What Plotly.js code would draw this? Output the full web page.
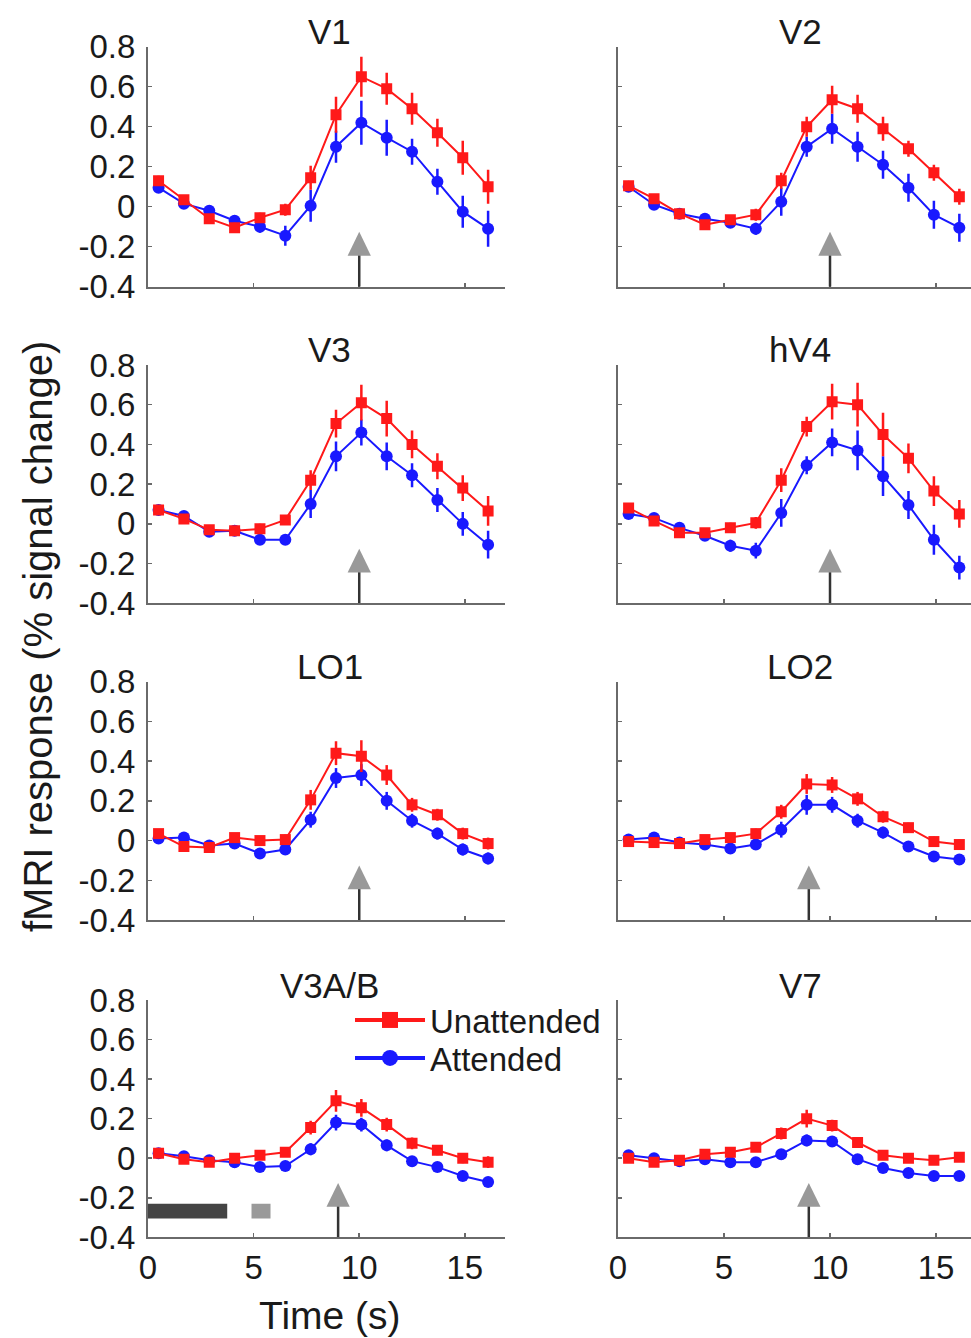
<!DOCTYPE html>
<html>
<head>
<meta charset="utf-8">
<script src="https://cdn.plot.ly/plotly-3.0.1.min.js"></script>
<style>html,body{margin:0;padding:0;background:#fff;}#chart{width:971px;height:1338px;}</style>
</head>
<body>
<div id="chart"></div>
<script>
// ---- data ----
const panelNames = ['V1','V2','V3','hV4','LO1','LO2','V3A/B','V7'];
const timePoints = [0.5,1.7,2.9,4.1,5.3,6.5,7.7,8.9,10.1,11.3,12.5,13.7,14.9,16.1];

const unattV1  = [0.13,0.035,-0.06,-0.105,-0.055,-0.015,0.145,0.46,0.65,0.59,0.49,0.37,0.245,0.10];
const unattV1e = [0.025,0.02,0.02,0.025,0.025,0.03,0.06,0.09,0.10,0.08,0.08,0.07,0.085,0.085];
const attV1    = [0.095,0.015,-0.02,-0.07,-0.10,-0.145,0.005,0.30,0.42,0.345,0.275,0.125,-0.025,-0.11];
const attV1e   = [0.02,0.02,0.02,0.025,0.03,0.05,0.08,0.08,0.11,0.09,0.065,0.065,0.08,0.09];

const unattV2  = [0.105,0.04,-0.035,-0.09,-0.065,-0.04,0.13,0.40,0.535,0.49,0.39,0.29,0.17,0.05];
const unattV2e = [0.02,0.02,0.02,0.02,0.02,0.03,0.04,0.05,0.07,0.07,0.06,0.04,0.04,0.04];
const attV2    = [0.10,0.01,-0.035,-0.06,-0.08,-0.11,0.025,0.30,0.39,0.30,0.21,0.095,-0.04,-0.105];
const attV2e   = [0.02,0.02,0.02,0.02,0.02,0.03,0.07,0.05,0.075,0.075,0.07,0.07,0.07,0.07];

const unattV3  = [0.07,0.025,-0.03,-0.035,-0.025,0.02,0.22,0.505,0.61,0.53,0.40,0.29,0.18,0.065];
const unattV3e = [0.02,0.02,0.02,0.02,0.025,0.025,0.05,0.07,0.09,0.09,0.07,0.065,0.065,0.075];
const attV3    = [0.07,0.04,-0.04,-0.035,-0.08,-0.08,0.10,0.34,0.46,0.34,0.245,0.12,0.0,-0.105];
const attV3e   = [0.02,0.02,0.02,0.02,0.02,0.025,0.07,0.075,0.065,0.07,0.06,0.06,0.06,0.07];

const unattV4  = [0.08,0.015,-0.045,-0.045,-0.02,0.005,0.22,0.49,0.615,0.60,0.45,0.33,0.165,0.05];
const unattV4e = [0.02,0.02,0.02,0.02,0.025,0.03,0.06,0.05,0.09,0.11,0.11,0.075,0.075,0.07];
const attV4    = [0.05,0.03,-0.02,-0.06,-0.11,-0.135,0.055,0.295,0.41,0.37,0.24,0.095,-0.08,-0.22];
const attV4e   = [0.02,0.02,0.02,0.02,0.03,0.04,0.07,0.045,0.07,0.10,0.10,0.07,0.075,0.06];

const unattLO1  = [0.035,-0.03,-0.035,0.015,0.0,0.005,0.205,0.44,0.425,0.33,0.18,0.13,0.035,-0.015];
const unattLO1e = [0.02,0.02,0.02,0.02,0.02,0.025,0.05,0.06,0.08,0.05,0.035,0.03,0.03,0.03];
const attLO1    = [0.01,0.015,-0.025,-0.015,-0.065,-0.045,0.105,0.315,0.33,0.20,0.10,0.035,-0.045,-0.09];
const attLO1e   = [0.02,0.02,0.02,0.02,0.02,0.025,0.04,0.05,0.055,0.045,0.035,0.03,0.03,0.03];

const unattLO2  = [-0.005,-0.01,-0.015,0.005,0.015,0.035,0.145,0.285,0.28,0.21,0.12,0.065,-0.005,-0.02];
const unattLO2e = [0.02,0.02,0.02,0.02,0.02,0.025,0.035,0.05,0.04,0.035,0.03,0.025,0.025,0.025];
const attLO2    = [0.005,0.015,-0.01,-0.02,-0.04,-0.02,0.055,0.18,0.18,0.10,0.04,-0.03,-0.08,-0.095];
const attLO2e   = [0.02,0.02,0.02,0.02,0.02,0.02,0.04,0.05,0.04,0.035,0.03,0.025,0.02,0.02];

const unattV3AB  = [0.025,-0.005,-0.02,0.0,0.015,0.03,0.155,0.29,0.255,0.17,0.075,0.04,0.0,-0.02];
const unattV3ABe = [0.02,0.02,0.02,0.02,0.02,0.02,0.035,0.055,0.045,0.035,0.03,0.025,0.025,0.03];
const attV3AB    = [0.025,0.01,-0.01,-0.02,-0.045,-0.04,0.045,0.18,0.17,0.065,-0.015,-0.045,-0.09,-0.12];
const attV3ABe   = [0.02,0.02,0.02,0.02,0.02,0.02,0.03,0.04,0.035,0.03,0.025,0.025,0.025,0.025];

const unattV7  = [0.0,-0.02,-0.01,0.02,0.03,0.055,0.125,0.20,0.165,0.08,0.015,0.0,-0.01,0.005];
const unattV7e = [0.02,0.02,0.02,0.02,0.02,0.02,0.03,0.045,0.03,0.025,0.02,0.02,0.02,0.02];
const attV7    = [0.015,0.0,-0.015,-0.005,-0.02,-0.02,0.02,0.09,0.085,-0.005,-0.05,-0.075,-0.09,-0.09];
const attV7e   = [0.02,0.02,0.02,0.02,0.02,0.02,0.02,0.03,0.025,0.02,0.02,0.02,0.02,0.02];

const arrowTimes = [10,10,10,10,10,9,9,9];
const stimulusPeriod = [0, 3.75];
const probePeriod = [4.9, 5.8];
const timingBarLevel = [-0.305, -0.23];

const yTickVals = [-0.4,-0.2,0,0.2,0.4,0.6,0.8];
const yTickText = ['-0.4','-0.2','0','0.2','0.4','0.6','0.8'];
const xTickVals = [0,5,10,15];
const xTickText = ['0','5','10','15'];

const unattended = [unattV1,unattV2,unattV3,unattV4,unattLO1,unattLO2,unattV3AB,unattV7];
const unattendedErr = [unattV1e,unattV2e,unattV3e,unattV4e,unattLO1e,unattLO2e,unattV3ABe,unattV7e];
const attended = [attV1,attV2,attV3,attV4,attLO1,attLO2,attV3AB,attV7];
const attendedErr = [attV1e,attV2e,attV3e,attV4e,attLO1e,attLO2e,attV3ABe,attV7e];

// ---- style / layout ----
const W = 971, H = 1338;
const FONT = '"Liberation Sans", Arial, Helvetica, sans-serif';
const RED = 'rgb(255,25,25)', BLUE = 'rgb(25,25,255)';
const AXC = '#6a6a6a';
const colPx = [[148,505],[618,971]];
const colRange = [[0,16.9],[0,16.65]];
const rowPx = [[46.7,286.7],[365,603.3],[681.7,920],[1000,1237.3]];

const traces = [];
const legendStyle = (yPx) => ({x: 350/W, y: 1 - yPx/H, xanchor: 'left', yanchor: 'middle',
  bgcolor: 'rgba(0,0,0,0)', font: {family: FONT, size: 33, color: '#1a1a1a'}, itemwidth: 70});
const layout = {
  width: W, height: H, autosize: false,
  margin: {l:0, r:0, t:0, b:0},
  paper_bgcolor: '#fff', plot_bgcolor: 'rgba(0,0,0,0)',
  font: {family: FONT, color: '#1a1a1a', size: 32},
  showlegend: true,
  legend: legendStyle(1020),
  legend2: legendStyle(1058),
  annotations: [], shapes: []
};

for (let i = 0; i < 8; i++) {
  const r = Math.floor(i/2), c = i % 2;
  const sfx = i === 0 ? '' : String(i+1);
  const xa = 'x' + sfx, ya = 'y' + sfx;
  layout['xaxis' + sfx] = {
    domain: [colPx[c][0]/W, colPx[c][1]/W], range: colRange[c], anchor: ya,
    showline: true, linecolor: AXC, linewidth: 2, ticks: 'inside', ticklen: 4, tickwidth: 1.5, tickcolor: AXC,
    tickvals: xTickVals, ticktext: xTickText, showticklabels: r === 3,
    showgrid: false, zeroline: false, tickfont: {size: 33}, ticklabelstandoff: 0, fixedrange: true
  };
  layout['yaxis' + sfx] = {
    domain: [1 - rowPx[r][1]/H, 1 - rowPx[r][0]/H], range: [-0.4, 0.8], anchor: xa,
    showline: true, linecolor: AXC, linewidth: 2, ticks: 'inside', ticklen: 4, tickwidth: 1.5, tickcolor: AXC,
    tickvals: yTickVals, ticktext: yTickText, showticklabels: c === 0,
    showgrid: false, zeroline: false, tickfont: {size: 33}, ticklabelstandoff: 4, fixedrange: true
  };
  traces.push({
    type: 'scatter', mode: 'lines+markers', x: timePoints, y: attended[i], xaxis: xa, yaxis: ya,
    name: 'Attended', showlegend: false,
    line: {color: BLUE, width: 2}, marker: {color: BLUE, symbol: 'circle', size: 12},
    error_y: {type: 'data', array: attendedErr[i], visible: true, color: BLUE, thickness: 2.5, width: 0}
  });
  traces.push({
    type: 'scatter', mode: 'lines+markers', x: timePoints, y: unattended[i], xaxis: xa, yaxis: ya,
    name: 'Unattended', showlegend: false,
    line: {color: RED, width: 2}, marker: {color: RED, symbol: 'square', size: 11},
    error_y: {type: 'data', array: unattendedErr[i], visible: true, color: RED, thickness: 2.5, width: 0}
  });
  layout.annotations.push({
    text: panelNames[i], xref: xa, yref: ya + ' domain', x: 8.6, y: 1, yanchor: 'middle', yshift: 15,
    showarrow: false, font: {size: 35, color: '#1a1a1a'}
  });
  const ax = arrowTimes[i];
  layout.shapes.push({type: 'line', xref: xa, yref: ya, x0: ax, x1: ax, y0: -0.4, y1: -0.24,
    line: {color: '#333', width: 2.5}});
  layout.shapes.push({type: 'path', xref: xa, yref: ya,
    path: `M ${ax-0.55},-0.245 L ${ax+0.55},-0.245 L ${ax},-0.125 Z`,
    fillcolor: '#999', line: {width: 0}});
}

// legend entries (no data of their own)
traces.push({type: 'scatter', mode: 'lines+markers', x: [null], y: [null], xaxis: 'x7', yaxis: 'y7',
  name: 'Unattended', legend: 'legend', showlegend: true,
  line: {color: RED, width: 4}, marker: {color: RED, symbol: 'square', size: 18}});
traces.push({type: 'scatter', mode: 'lines+markers', x: [null], y: [null], xaxis: 'x7', yaxis: 'y7',
  name: 'Attended', legend: 'legend2', showlegend: true,
  line: {color: BLUE, width: 4}, marker: {color: BLUE, symbol: 'circle', size: 20}});

// timing bars in V3A/B panel
layout.shapes.push({type: 'rect', xref: 'x7', yref: 'y7', x0: stimulusPeriod[0], x1: stimulusPeriod[1],
  y0: timingBarLevel[0], y1: timingBarLevel[1], fillcolor: '#444', line: {width: 0}});
layout.shapes.push({type: 'rect', xref: 'x7', yref: 'y7', x0: probePeriod[0], x1: probePeriod[1],
  y0: timingBarLevel[0], y1: timingBarLevel[1], fillcolor: '#9a9a9a', line: {width: 0}});

// axis titles
layout.annotations.push({text: 'Time (s)', xref: 'x7', yref: 'paper', x: 8.6, y: 1 - 1315/H,
  yanchor: 'middle', showarrow: false, font: {size: 39, color: '#1a1a1a'}});
layout.annotations.push({text: 'fMRI response (% signal change)', xref: 'paper', yref: 'paper',
  x: 38/W, y: 1 - 637/H, xanchor: 'center', yanchor: 'middle', textangle: -90,
  showarrow: false, font: {size: 40, color: '#1a1a1a'}});

Plotly.newPlot('chart', traces, layout, {staticPlot: true, displayModeBar: false});
</script>
</body>
</html>
